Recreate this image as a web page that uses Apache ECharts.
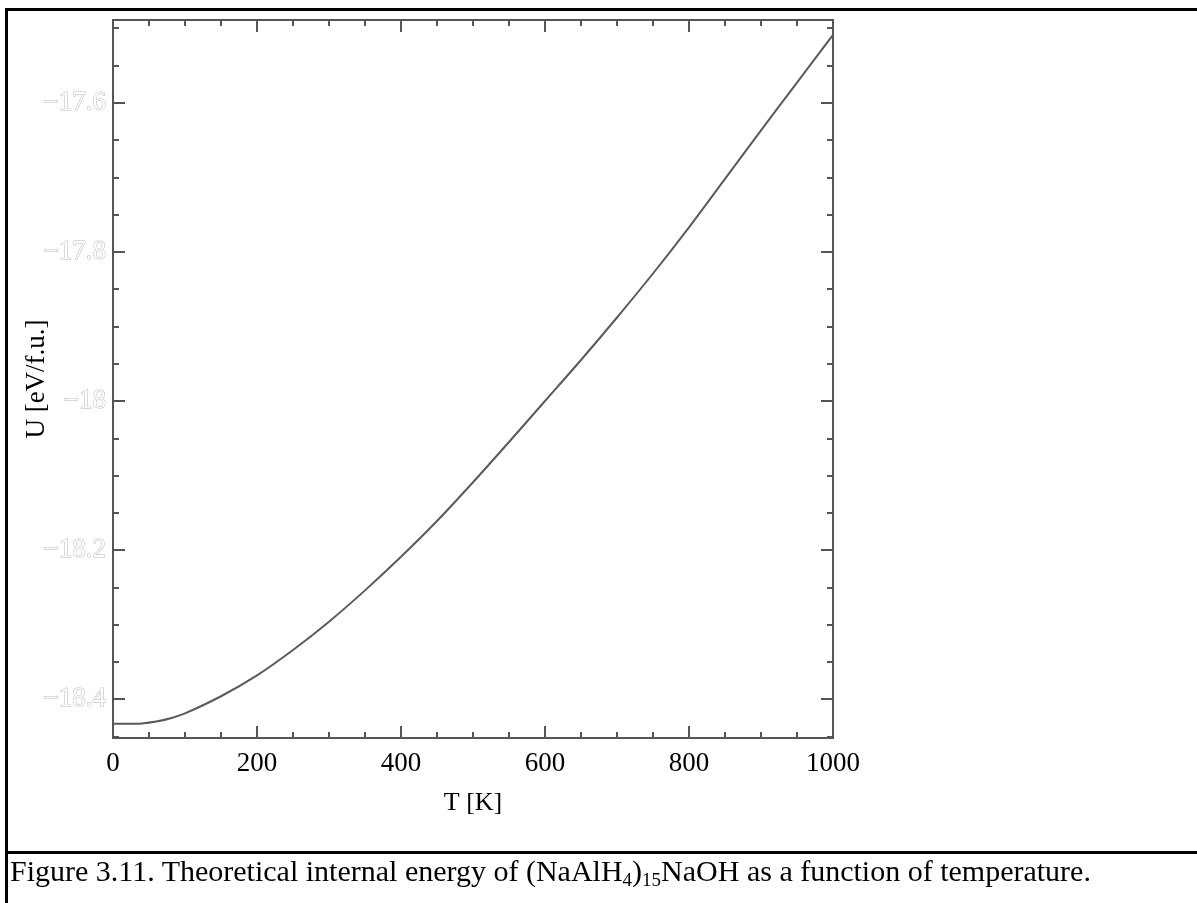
<!DOCTYPE html>
<html>
<head>
<meta charset="utf-8">
<script src="https://cdn.jsdelivr.net/npm/echarts@6/dist/echarts.min.js"></script>
<style>
  body { margin: 0; background: #fff; }
  #main { position: absolute; left: 0; top: 0; width: 1197px; height: 903px; }
  .rule { position: absolute; background: #000; }
  #caption { position: absolute; left: 10px; top: 853px; font: 30px 'Liberation Serif', serif; line-height: 36px; color: #000; white-space: nowrap; }
  #caption sub { font-size: 19px; vertical-align: -5px; line-height: 0; }
</style>
</head>
<body>
<div id="main"></div>
<div class="rule" style="left:5px;top:8px;width:1192px;height:3px"></div>
<div class="rule" style="left:5px;top:8px;width:3px;height:895px"></div>
<div class="rule" style="left:5px;top:851px;width:1192px;height:3px"></div>
<div id="caption">Figure 3.11. Theoretical internal energy of (NaAlH<sub>4</sub>)<sub>15</sub>NaOH as a function of temperature.</div>
<script>
// temperature [K] and internal energy [eV/f.u.]
var temps = [0, 20, 40, 60, 80, 100, 150, 200, 250, 300, 350, 400, 450, 500,
             550, 600, 650, 700, 750, 800, 850, 900, 950, 1000];
var energy = [-18.433, -18.433, -18.4325, -18.430, -18.4255, -18.419, -18.396, -18.368,
              -18.334, -18.296, -18.254, -18.209, -18.161, -18.109, -18.055, -18.000,
              -17.945, -17.888, -17.829, -17.767, -17.702, -17.637, -17.573, -17.509];

var xMajor = [0, 200, 400, 600, 800, 1000];
var xMinor = [50, 100, 150, 250, 300, 350, 450, 500, 550, 650, 700, 750, 850, 900, 950];
var yMajor = [-18.4, -18.2, -18, -17.8, -17.6];
var yMinor = [-18.45, -18.35, -18.3, -18.25, -18.15, -18.1, -18.05, -17.95, -17.9,
              -17.85, -17.75, -17.7, -17.65, -17.55, -17.5];

var xMin = 0, xMax = 1000;
var yMin = -18.452, yMax = -17.489;

var axisColor = '#555';
var serif = "'Liberation Serif', serif";

function makeX(pos, ticks, len, withLabels) {
  return {
    type: 'value', position: pos, min: xMin, max: xMax,
    axisLine: { show: true, onZero: false, lineStyle: { color: axisColor, width: 2 } },
    axisTick: { show: true, inside: true, length: len, customValues: ticks,
                lineStyle: { color: axisColor, width: 2 } },
    axisLabel: withLabels ? { show: true, customValues: ticks, margin: 12,
                fontFamily: serif, fontSize: 27, color: '#000',
                formatter: function (v) { return String(v); } } : { show: false },
    splitLine: { show: false },
    name: withLabels ? 'T [K]' : '',
    nameLocation: 'middle', nameGap: 52, nameMoveOverlap: false,
    nameTextStyle: { fontFamily: serif, fontSize: 26, color: '#000' }
  };
}

function makeY(pos, ticks, len, withLabels) {
  return {
    type: 'value', position: pos, min: yMin, max: yMax,
    axisLine: { show: true, onZero: false, lineStyle: { color: axisColor, width: 2 } },
    axisTick: { show: true, inside: true, length: len, customValues: ticks,
                lineStyle: { color: axisColor, width: 2 } },
    axisLabel: withLabels ? {
      show: true, customValues: ticks, margin: 7,
      fontFamily: serif, fontSize: 27, color: '#fff',
      textBorderColor: '#b8b8b8', textBorderWidth: 1,
      formatter: function (v) { return (v < 0 ? '\u2212' : '') + Math.abs(v); }
    } : { show: false },
    splitLine: { show: false },
    name: withLabels ? 'U [eV/f.u.]' : '',
    nameLocation: 'middle', nameGap: 63, nameRotate: 90, nameMoveOverlap: false,
    nameTextStyle: { fontFamily: serif, fontSize: 27, color: '#000' }
  };
}

var chart = echarts.init(document.getElementById('main'));

var option = {
  animation: false,
  grid: { left: 113, top: 20, right: 364, bottom: 165, outerBoundsMode: 'none' },
  xAxis: [
    makeX('bottom', xMajor, 12, true),
    makeX('bottom', xMinor, 6, false),
    makeX('top', xMajor, 12, false),
    makeX('top', xMinor, 6, false)
  ],
  yAxis: [
    makeY('left', yMajor, 12, true),
    makeY('left', yMinor, 6, false),
    makeY('right', yMajor, 12, false),
    makeY('right', yMinor, 6, false)
  ],
  series: [{
    type: 'line',
    xAxisIndex: 0,
    yAxisIndex: 0,
    data: temps.map(function (t, i) { return [t, energy[i]]; }),
    smooth: 0.3,
    showSymbol: false,
    lineStyle: { color: '#5a5a5a', width: 2 }
  }]
};

chart.setOption(option);
</script>
</body>
</html>
